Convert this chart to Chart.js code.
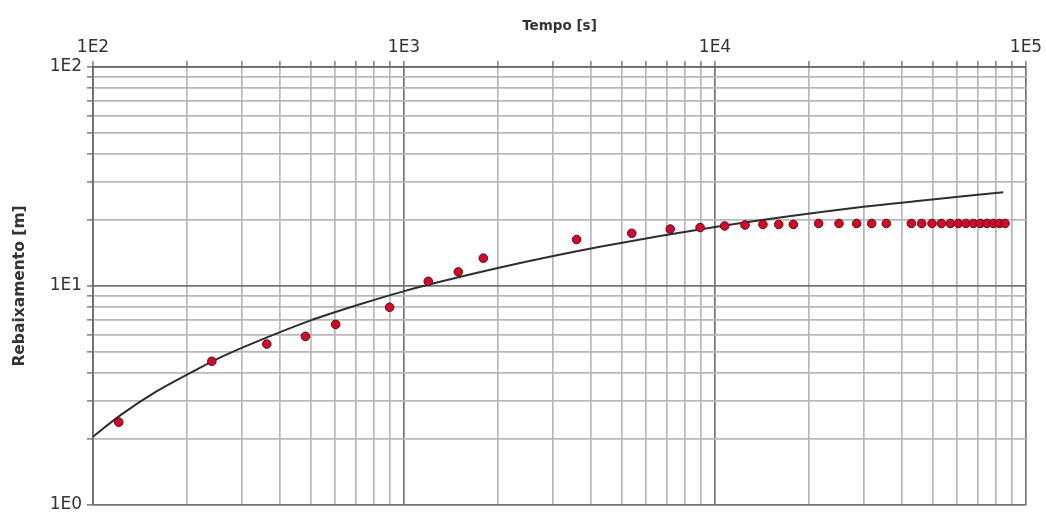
<!DOCTYPE html>
<html>
<head>
<meta charset="utf-8">
<script src="https://cdn.jsdelivr.net/npm/chart.js@4.4.1/dist/chart.umd.min.js"></script>
<style>
  html, body { margin: 0; padding: 0; background: #fff; }
  #wrap { width: 1046px; height: 513px; }
</style>
</head>
<body>
<div id="wrap"><canvas id="chart"></canvas></div>
<script>
const obsTime = [121, 241, 362, 482, 603, 899, 1197, 1495, 1799, 3590, 5400, 7180, 8955,
  10740, 12490, 14260, 16030, 17860, 21540, 25050, 28550, 31900, 35550,
  42780, 46200, 49860, 53420, 57090, 60590, 64120, 67700, 71300, 74920, 78520, 82100, 85620];
const obsDrawdown = [2.39, 4.53, 5.43, 5.89, 6.68, 8.0, 10.5, 11.6, 13.4, 16.3, 17.4, 18.2, 18.5,
  18.8, 19.0, 19.1, 19.1, 19.1, 19.3, 19.3, 19.3, 19.3, 19.3,
  19.3, 19.3, 19.3, 19.3, 19.3, 19.3, 19.3, 19.3, 19.3, 19.3, 19.3, 19.3, 19.3];

// fitted curve
const fitTime = [100, 122, 160, 205, 262, 371, 499, 722, 995, 1306, 2037, 4266, 10000, 30000, 45600, 84500];
const fitDrawdown = [2.05, 2.56, 3.30, 4.0, 4.78, 5.90, 6.95, 8.25, 9.45, 10.45, 12.15, 15.1, 18.6, 23.0, 24.5, 26.8];

const xTickLabels = ['1E2', '1E3', '1E4', '1E5'];
const yTickLabels = ['1E0', '1E1', '1E2'];
const mantissas = [1, 2, 3, 4, 5, 6, 7, 8, 9];

function logTicks(labels) {
  const decades = labels.map(Number);
  const vals = [];
  for (let i = 0; i < decades.length - 1; i++) {
    mantissas.forEach(m => vals.push(m * decades[i]));
  }
  vals.push(decades[decades.length - 1]);
  return vals;
}

function tickLabel(labels) {
  const decades = labels.map(Number);
  return function(value) {
    const i = decades.indexOf(value);
    return i >= 0 ? labels[i] : '';
  };
}

function isDecade(v) {
  const l = Math.log10(v);
  return Math.abs(l - Math.round(l)) < 1e-9;
}

const gridStyle = {
  color: c => (c.tick && isDecade(c.tick.value)) ? '#757575' : '#b8b8b8',
  lineWidth: 1.7,
  tickLength: 6,
  tickColor: '#8a8a8a'
};

const ctx = document.getElementById('chart').getContext('2d');
new Chart(ctx, {
  type: 'scatter',
  data: {
    datasets: [
      {
        label: 'ajuste',
        data: fitTime.map((t, i) => ({ x: t, y: fitDrawdown[i] })),
        showLine: true,
        borderColor: '#2e2e2e',
        borderWidth: 2,
        pointRadius: 0,
        cubicInterpolationMode: 'monotone',
        order: 2
      },
      {
        label: 'observado',
        data: obsTime.map((t, i) => ({ x: t, y: obsDrawdown[i] })),
        pointRadius: 4.3,
        pointBackgroundColor: '#cf0a2c',
        pointBorderColor: '#5a0a16',
        pointBorderWidth: 1,
        order: 1
      }
    ]
  },
  options: {
    responsive: true,
    maintainAspectRatio: false,
    animation: false,
    layout: { padding: { left: 0, top: 0, right: 20, bottom: 8 } },
    plugins: {
      legend: { display: false },
      tooltip: { enabled: false }
    },
    scales: {
      x: {
        type: 'logarithmic',
        position: 'top',
        min: 100,
        max: 100000,
        afterBuildTicks: s => { s.ticks = logTicks(xTickLabels).map(v => ({ value: v })); },
        afterFit: s => { s.height = 67; s.paddingLeft = 0; s.paddingRight = 0; },
        grid: gridStyle,
        border: { display: true, color: '#6a6a6a', width: 1.7 },
        ticks: {
          autoSkip: false,
          maxRotation: 0,
          padding: 3,
          color: '#333',
          font: { family: 'DejaVu Sans', size: 17 },
          callback: tickLabel(xTickLabels)
        },
        title: {
          display: true,
          text: 'Tempo [s]',
          color: '#333',
          font: { family: 'DejaVu Sans', size: 13.5, weight: 'bold' },
          padding: { top: 18, bottom: 0 }
        }
      },
      y: {
        type: 'logarithmic',
        min: 1,
        max: 100,
        afterBuildTicks: s => { s.ticks = logTicks(yTickLabels).map(v => ({ value: v })); },
        afterFit: s => { s.width = 93; s.paddingTop = 0; s.paddingBottom = 0; },
        grid: gridStyle,
        border: { display: true, color: '#6a6a6a', width: 1.7 },
        ticks: {
          autoSkip: false,
          padding: 5,
          color: '#333',
          font: { family: 'DejaVu Sans', size: 17, lineHeight: 1 },
          callback: tickLabel(yTickLabels)
        },
        title: {
          display: true,
          text: 'Rebaixamento [m]',
          color: '#333',
          font: { family: 'DejaVu Sans', size: 15.5, weight: 'bold' },
          padding: { top: 11, bottom: 0 }
        }
      }
    }
  }
});
</script>
</body>
</html>
